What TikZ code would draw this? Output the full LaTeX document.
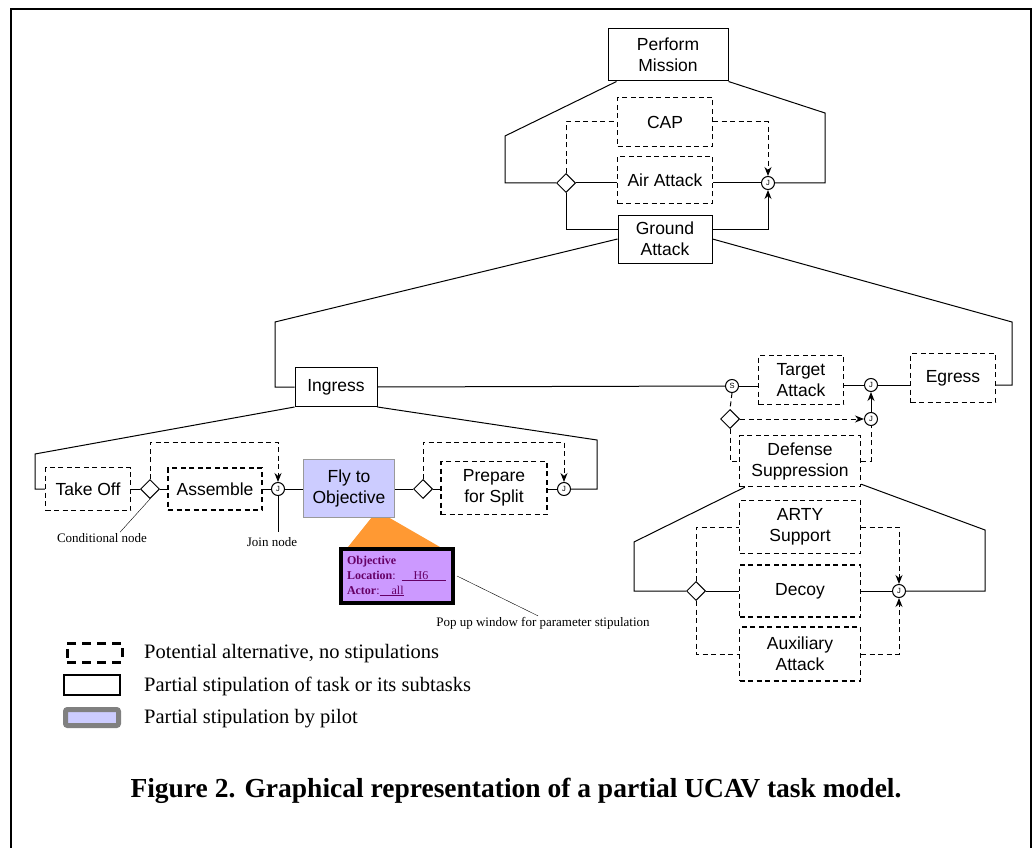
\documentclass[tikz,border=0pt]{standalone}
\usepackage{fontspec}
\setmainfont{Liberation Serif}
\setsansfont{Liberation Sans}
\usetikzlibrary{arrows.meta,positioning,shapes.geometric}

\definecolor{flyfill}{RGB}{204,204,255}
\definecolor{popfill}{RGB}{204,153,255}
\definecolor{poptext}{RGB}{102,0,102}
\definecolor{popcone}{RGB}{255,153,51}

\begin{document}
\begin{tikzpicture}[x=1pt,y=-1pt,
		task/.style={draw, line width=1pt, align=center, inner sep=0pt,
			font=\sffamily\fontsize{17.5}{21}\selectfont},
		alt/.style={task, line width=1.4pt, dash pattern=on 5pt off 3.5pt},
		pilot/.style={task, fill=flyfill, draw=gray!80},
		cond/.style={draw, diamond, aspect=1, minimum width=19pt, minimum height=19pt,
			inner sep=0pt, line width=1pt, fill=white},
		joinn/.style={draw, circle, minimum size=13pt, inner sep=0pt, line width=1pt,
			fill=white, font=\sffamily\fontsize{7.5}{7.5}\selectfont},
		link/.style={line width=1pt},
		altlink/.style={line width=1pt, dash pattern=on 5pt off 3.5pt},
		arr/.style={-{Stealth[length=9pt,width=7pt]}},
		note/.style={inner sep=1pt, font=\fontsize{13}{15}\selectfont},
		legtext/.style={inner sep=0pt, anchor=west, font=\fontsize{20.5}{23}\selectfont}]
		\useasboundingbox (0,0) rectangle (1034,848);

		% Frame
		\draw[line width=2pt] (11,848) -- (11,9) -- (1031,9) -- (1031,848);

		% Perform Mission and its alternatives
		\node[task, minimum width=120pt, minimum height=52pt] (mission) at (668,55) {Perform\\Mission};
		\node[alt, minimum width=95pt, minimum height=49pt] (cap) at (665,122) {CAP};
		\node[alt, minimum width=95pt, minimum height=47pt] (air) at (665,180) {Air Attack};
		\node[task, minimum width=94pt, minimum height=48pt] (ground) at (665,239) {Ground\\Attack};
		\node[cond] (c1) at (566,183) {};
		\node[joinn] (j1) at (768,183) {J};
		\draw[link] ([xshift=9pt]mission.south west) -- (505,136) |- (c1.west);
		\draw[link] (mission.south east) -- (825,113) |- (j1.east);
		\draw[altlink] (c1.north) |- (cap.west);
		\draw[altlink, arr] (cap.east) -| (j1.north);
		\draw[link] (c1.east) -- (c1 -| air.west);
		\draw[link] (air.east |- j1) -- (j1.west);
		\draw[link] (c1.south) |- ([yshift=10pt]ground.west);
		\draw[link, arr] ([yshift=10pt]ground.east) -| (j1.south);

		% Ground Attack: Ingress, Target Attack, Egress
		\node[task, minimum width=82pt, minimum height=39pt] (ingress) at (336,387) {Ingress};
		\node[joinn] (split) at (732,386) {S};
		\node[alt, minimum width=85pt, minimum height=49pt] (target) at (801,380) {Target\\Attack};
		\node[joinn] (j5) at (871,385) {J};
		\node[alt, minimum width=85pt, minimum height=49pt] (egress) at (953,378) {Egress};
		\draw[link] (ground.west) -- (275,322) |- (ingress.west);
		\draw[link] (ground.east) -- (1012,322) |- (j5 -| egress.east);
		\draw[link] (ingress.east) -- (split.west);
		\draw[link] (split.east) -- (split.east -| target.west);
		\draw[link] (target.east |- j5) -- (j5.west);
		\draw[link] (j5.east) -- (j5.east -| egress.west);

		% Defense Suppression branch
		\node[cond] (c5) at (730,419) {};
		\node[joinn] (j6) at (871,419) {J};
		\node[alt, minimum width=121pt, minimum height=51pt] (defense) at (800,461) {Defense\\Suppression};
		\draw[altlink] (split.south) -- (c5.north);
		\draw[altlink, arr] (c5.east) -- (j6.west);
		\draw[link, arr] (j6.north) -- (j5.south);
		\draw[altlink] (c5.south) |- (defense.west);
		\draw[altlink] (defense.east) -| (j6.south);

		% Defense Suppression alternatives
		\node[alt, minimum width=121pt, minimum height=53pt] (arty) at (800,527) {ARTY\\Support};
		\node[alt, minimum width=121pt, minimum height=52pt] (decoy) at (800,591) {Decoy};
		\node[alt, minimum width=121pt, minimum height=54pt] (aux) at (800,654) {Auxiliary\\Attack};
		\node[cond] (c6) at (696,591) {};
		\node[joinn] (j7) at (899,591) {J};
		\draw[link] ([xshift=6pt]defense.south west) -- (634,542) |- (c6.west);
		\draw[link] ([yshift=3pt]defense.south east) -- (985,530) |- (j7.east);
		\draw[altlink] (c6.north) |- (arty.west);
		\draw[altlink] (c6.south) |- (aux.west);
		\draw[link] (c6.east) -- (decoy.west);
		\draw[link] (decoy.east) -- (j7.west);
		\draw[altlink, arr] (arty.east) -| (j7.north);
		\draw[altlink, arr] (aux.east) -| (j7.south);

		% Pop up cone behind Fly to Objective
		\fill[popcone] (372,517) -- (388,517) -- (440,547) -- (348,547) -- cycle;

		% Ingress subtasks
		\node[alt, minimum width=85pt, minimum height=43pt] (takeoff) at (88,489) {Take Off};
		\node[cond] (c3) at (150,489) {};
		\node[alt, minimum width=94pt, minimum height=42pt] (assemble) at (215,489) {Assemble};
		\node[joinn] (j3) at (278,489) {J};
		\node[pilot, minimum width=91pt, minimum height=58pt] (fly) at (349,488) {Fly to\\Objective};
		\node[cond] (c4) at (423,489) {};
		\node[alt, minimum width=106pt, minimum height=53pt] (prepare) at (494,488) {Prepare\\for Split};
		\node[joinn] (j4) at (564,489) {J};
		\draw[link] (ingress.south west) -- (35,454) |- (takeoff.west);
		\draw[link] (ingress.south east) -- (597,440) |- (j4.east);
		\draw[link] (takeoff.east |- c3) -- (c3.west);
		\draw[link] (c3.east) -- (c3 -| assemble.west);
		\draw[link] (assemble.east |- j3) -- (j3.west);
		\draw[link] (j3.east) -- (j3 -| fly.west);
		\draw[link] (fly.east |- c4) -- (c4.west);
		\draw[link] (c4.east) -- (c4 -| prepare.west);
		\draw[link] (prepare.east |- j4) -- (j4.west);
		\draw[altlink, arr] (c3.north) -- ++(0,-37) -| (j3.north);
		\draw[altlink, arr] (c4.north) -- ++(0,-37) -| (j4.north);

		% Notes
		\node[note] (condnote) at (102,538) {Conditional node};
		\node[note] (joinnote) at (272,542) {Join node};
		\draw[thin] (c3.south) -- ([xshift=18pt]condnote.north);
		\draw[thin] (j3.south) -- ([xshift=6pt, yshift=4pt]joinnote.north);

		% Pop up window
		\node[draw, line width=4pt, fill=popfill, minimum width=112pt, minimum height=54pt,
			inner sep=0pt, text width=100pt, align=left, text=poptext,
			font=\fontsize{12}{15}\selectfont] (popup) at (397,576)
			{\textbf{Objective}\\\textbf{Location}: \underline{\hspace{12pt}H6\hspace{18pt}}\\\textbf{Actor}:\underline{\hspace{12pt}all}};
		\node[note] (popnote) at (543,623) {Pop up window for parameter stipulation};
		\draw[thin] ([xshift=2pt]popup.east) -- ([xshift=-5pt]popnote.north);

		% Legend
		\node[draw, line width=3pt, dash pattern=on 9pt off 6pt, minimum width=55pt, minimum height=19pt,
			inner sep=0pt] (legalt) at (94.5,652.5) {};
		\node[draw, line width=1.1pt, minimum width=56pt, minimum height=20pt, inner sep=0pt] (legtask) at (92,685) {};
		\node[draw=gray, line width=5pt, fill=flyfill, rounded corners=2pt, minimum width=53pt, minimum height=16pt,
			inner sep=0pt] (legpilot) at (92,717.5) {};
		\node[legtext] at (144,654) {Potential alternative, no stipulations};
		\node[legtext] at (144,686) {Partial stipulation of task or its subtasks};
		\node[legtext] at (144,719) {Partial stipulation by pilot};

		% Caption
		\node[font=\bfseries\fontsize{27.5}{30}\selectfont] (caption) at (516,791)
			{Figure 2. Graphical representation of a partial UCAV task model.};
	\end{tikzpicture}
\end{document}
